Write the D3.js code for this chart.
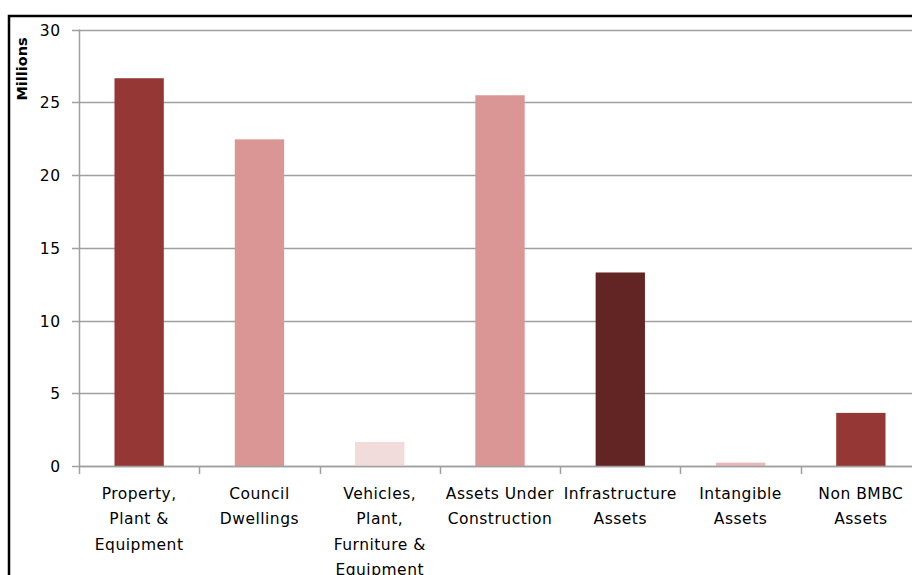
<!DOCTYPE html>
<html>
<head>
<meta charset="utf-8">
<script src="https://cdn.jsdelivr.net/npm/d3@7"></script>
<style>
  html, body { margin: 0; padding: 0; background: #fff; overflow: hidden; }
  svg { display: block; }
</style>
</head>
<body>
<script>
// categories (line-broken labels as shown under the axis)
var categories = [
  ['Property,', 'Plant &', 'Equipment'],
  ['Council', 'Dwellings'],
  ['Vehicles,', 'Plant,', 'Furniture &', 'Equipment'],
  ['Assets Under', 'Construction'],
  ['Infrastructure', 'Assets'],
  ['Intangible', 'Assets'],
  ['Non BMBC', 'Assets']
];
var values = [26.65, 22.45, 1.65, 25.48, 13.3, 0.23, 3.65];
var colors = ['#953735', '#D99694', '#F2DCDB', '#D99694', '#632523', '#E6B9B8', '#953735'];
var yTicks = [0, 5, 10, 15, 20, 25, 30];

var W = 912, H = 575;
var plotL = 79, plotR = 921, plotT = 29.5, plotB = 466;

var svg = d3.select('body').append('svg')
  .attr('width', W)
  .attr('height', H);

// outer chart border
svg.append('rect')
  .attr('x', 9).attr('y', 16)
  .attr('width', 940).attr('height', 600)
  .attr('fill', 'none')
  .attr('stroke', '#000')
  .attr('stroke-width', 2.5);

var x = d3.scaleBand()
  .domain(d3.range(categories.length))
  .range([plotL, plotR])
  .paddingInner(0.59)
  .paddingOuter(0.295);

var y = d3.scaleLinear()
  .domain([0, 30])
  .range([plotB, plotT]);

// gridlines
svg.append('g').selectAll('line')
  .data(yTicks)
  .enter().append('line')
  .attr('x1', plotL - 7).attr('x2', W)
  .attr('y1', function(d) { return Math.round(y(d)) + 0.5; })
  .attr('y2', function(d) { return Math.round(y(d)) + 0.5; })
  .attr('stroke', '#A0A0A0')
  .attr('stroke-width', 1.5);

// y axis line
svg.append('line')
  .attr('x1', plotL + 0.5).attr('x2', plotL + 0.5)
  .attr('y1', plotT).attr('y2', plotB)
  .attr('stroke', '#A0A0A0')
  .attr('stroke-width', 1.5);

// y labels
svg.append('g').selectAll('text')
  .data(yTicks)
  .enter().append('text')
  .attr('x', 61)
  .attr('y', function(d) { return y(d) + 6; })
  .attr('text-anchor', 'end')
  .attr('font-family', 'DejaVu Sans, sans-serif')
  .attr('font-size', 15.5)
  .attr('letter-spacing', 0.8)
  .attr('fill', '#000')
  .text(function(d) { return d; });

svg.append('text')
  .attr('transform', 'translate(27,69) rotate(-90)')
  .attr('text-anchor', 'middle')
  .attr('font-family', 'DejaVu Sans, sans-serif')
  .attr('font-weight', 'bold')
  .attr('font-size', 14.5)
  .text('Millions');

// bars
svg.append('g').selectAll('rect')
  .data(values)
  .enter().append('rect')
  .attr('x', function(d, i) { return x(i); })
  .attr('width', x.bandwidth())
  .attr('y', function(d) { return y(d); })
  .attr('height', function(d) { return plotB - y(d); })
  .attr('fill', function(d, i) { return colors[i]; });

// x axis line and tick marks
svg.append('line')
  .attr('x1', plotL).attr('x2', W)
  .attr('y1', plotB + 0.5).attr('y2', plotB + 0.5)
  .attr('stroke', '#A0A0A0')
  .attr('stroke-width', 1.5);

var step = x.step();
svg.append('g').selectAll('line')
  .data(d3.range(categories.length + 1))
  .enter().append('line')
  .attr('x1', function(i) { return Math.round(plotL + i * step) + 0.5; })
  .attr('x2', function(i) { return Math.round(plotL + i * step) + 0.5; })
  .attr('y1', plotB).attr('y2', plotB + 8)
  .attr('stroke', '#A0A0A0')
  .attr('stroke-width', 1.5);

// category labels
var lab = svg.append('g').selectAll('text')
  .data(categories)
  .enter().append('text')
  .attr('text-anchor', 'middle')
  .attr('font-family', 'DejaVu Sans, sans-serif')
  .attr('font-size', 15.5)
  .attr('letter-spacing', 0.5)
  .attr('fill', '#000')
  .attr('transform', function(d, i) {
    return 'translate(' + (x(i) + x.bandwidth() / 2) + ',499)';
  });

lab.selectAll('tspan')
  .data(function(d) { return d; })
  .enter().append('tspan')
  .attr('x', 0)
  .attr('dy', function(d, j) { return j === 0 ? 0 : 25.3; })
  .text(function(d) { return d; });
</script>
</body>
</html>
